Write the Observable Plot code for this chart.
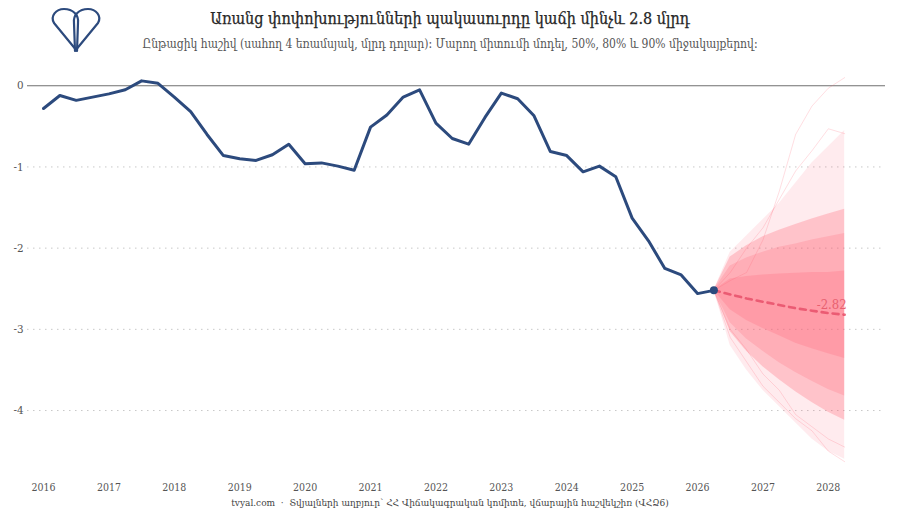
<!DOCTYPE html>
<html><head><meta charset="utf-8">
<script src="https://cdn.jsdelivr.net/npm/d3@7"></script>
<script src="https://cdn.jsdelivr.net/npm/@observablehq/plot@0.6"></script>
<style>
body{margin:0;background:#fff;}
#wrap{position:relative;width:900px;height:525px;overflow:hidden;background:#fff;font-family:"DejaVu Serif",serif;}
#title{position:absolute;top:9px;left:0;width:900px;text-align:center;font-size:16px;color:#262626;font-family:"DejaVu Serif Condensed","DejaVu Serif",serif;-webkit-text-stroke:0.25px #262626;}
#subtitle{position:absolute;top:37px;left:0;width:900px;text-align:center;font-size:12px;color:#555;font-family:"DejaVu Serif Condensed","DejaVu Serif",serif;}
#chart{position:absolute;top:62px;left:0;}
#caption{position:absolute;top:497px;left:0;width:900px;text-align:center;font-size:10px;color:#444;font-family:"DejaVu Serif Condensed","DejaVu Serif",serif;}
#logo{position:absolute;left:48px;top:6px;}
</style></head>
<body>
<div id="wrap">
<svg id="logo" width="56" height="48" viewBox="0 0 56 48">
  <path d="M29,45 L6,17 C2,10 8,3 16,3 C25,3 31,9 30,17 Z" fill="none" stroke="#2c4a7d" stroke-width="2.2" stroke-linejoin="round"/>
  <path d="M27,45 L50,17 C54,10 48,3 40,3 C31,3 25,9 26,17 Z" fill="none" stroke="#2c4a7d" stroke-width="2.2" stroke-linejoin="round"/>
</svg>
<div id="title">Առանց փոփոխությունների պակասուրդը կաճի մինչև 2.8 մլրդ</div>
<div id="subtitle">Ընթացիկ հաշիվ (սահող 4 եռամսյակ, մլրդ դոլար)։ Մարող միտումի մոդել, 50%, 80% և 90% միջակայքերով։</div>
<div id="chart"></div>
<div id="caption">tvyal.com &nbsp;·&nbsp; Տվյալների աղբյուր՝ ՀՀ Վիճակագրական կոմիտե, վճարային հաշվեկշիռ (ՎՀՁ6)</div>
</div>
<script>
// Historical current account (rolling 4 quarters, bn USD), quarterly from 2016 Q1
const histStart = 2016;
const histValues = [-0.28,-0.12,-0.18,-0.14,-0.10,-0.05,0.06,0.03,-0.14,-0.32,-0.60,-0.86,-0.90,-0.92,-0.85,-0.72,-0.96,-0.95,-0.99,-1.04,-0.51,-0.36,-0.14,-0.05,-0.46,-0.65,-0.72,-0.39,-0.09,-0.16,-0.37,-0.81,-0.86,-1.06,-0.99,-1.12,-1.63,-1.91,-2.25,-2.33,-2.56,-2.52];

// Forecast, quarterly from 2026 Q2 (last observed) to 2028 Q2
const fcStart = 2026.25;
const fcMedian = [-2.52,-2.57,-2.62,-2.66,-2.70,-2.74,-2.77,-2.80,-2.82];
const fcLo50 = [-2.52,-2.76,-2.89,-2.99,-3.08,-3.17,-3.24,-3.30,-3.36];
const fcHi50 = [-2.52,-2.38,-2.35,-2.33,-2.32,-2.31,-2.30,-2.30,-2.28];
const fcLo80 = [-2.52,-2.92,-3.12,-3.27,-3.41,-3.53,-3.64,-3.74,-3.82];
const fcHi80 = [-2.52,-2.22,-2.12,-2.05,-1.99,-1.95,-1.90,-1.86,-1.82];
const fcLo90 = [-2.52,-3.03,-3.27,-3.46,-3.62,-3.77,-3.90,-4.02,-4.12];
const fcHi90 = [-2.52,-2.11,-1.97,-1.86,-1.78,-1.71,-1.64,-1.58,-1.52];
const fcMin = [-2.52,-3.20,-3.50,-3.75,-3.95,-4.15,-4.35,-4.50,-4.60];
const fcMax = [-2.52,-2.05,-1.85,-1.65,-1.45,-1.20,-0.95,-0.75,-0.55];
// a few visible extreme simulated paths
const pathHigh1 = [-2.52,-2.40,-2.30,-1.90,-1.30,-0.60,-0.25,-0.03,0.10];
const pathHigh2 = [-2.52,-2.30,-2.00,-1.75,-1.40,-1.05,-0.80,-0.53,-0.59];
const pathLow1 = [-2.52,-3.10,-3.40,-3.70,-3.90,-4.10,-4.25,-4.50,-4.63];
const pathLow2 = [-2.52,-3.00,-3.25,-3.55,-3.75,-4.05,-4.20,-4.35,-4.45];

const yTicks = [0,-1,-2,-3,-4];
const xTicks = [2016,2017,2018,2019,2020,2021,2022,2023,2024,2025,2026,2027,2028];
const medianLabel = "-2.82";

const hist = histValues.map((v,i)=>({t: histStart + i/4, v}));
const fc = fcMedian.map((m,i)=>({
  t: fcStart + i/4, m,
  lo50: fcLo50[i], hi50: fcHi50[i], lo80: fcLo80[i], hi80: fcHi80[i],
  lo90: fcLo90[i], hi90: fcHi90[i], mn: fcMin[i], mx: fcMax[i],
  p1: pathHigh1[i], p2: pathHigh2[i], p3: pathLow1[i], p4: pathLow2[i]
}));
const last = hist[hist.length-1];
const fcLast = fc[fc.length-1];

const pink = "#ff5c70";

const chart = Plot.plot({
  width: 900,
  height: 435,
  marginLeft: 27,
  marginRight: 15,
  marginTop: 7,
  marginBottom: 22,
  x: {domain: [2015.755, 2028.874], label: null},
  y: {domain: [-4.8, 0.2], label: null},
  style: {fontFamily: "'DejaVu Serif Condensed','DejaVu Serif',serif", fontSize: "11px", color: "#555", background: "transparent"},
  marks: [
    Plot.ruleY(yTicks.filter(d=>d!==0), {stroke: "#c8c8c8", strokeDasharray: "1.5,4.5", strokeWidth: 1}),
    Plot.ruleY([0], {stroke: "#6f6f6f", strokeWidth: 1.2}),
    Plot.areaY(fc, {x: "t", y1: "mn", y2: "mx", fill: pink, fillOpacity: 0.12}),
    Plot.areaY(fc, {x: "t", y1: "lo90", y2: "hi90", fill: pink, fillOpacity: 0.28}),
    Plot.areaY(fc, {x: "t", y1: "lo80", y2: "hi80", fill: pink, fillOpacity: 0.2}),
    Plot.areaY(fc, {x: "t", y1: "lo50", y2: "hi50", fill: pink, fillOpacity: 0.22}),
    Plot.lineY(fc, {x: "t", y: "p1", stroke: pink, strokeOpacity: 0.25, strokeWidth: 0.8}),
    Plot.lineY(fc, {x: "t", y: "p2", stroke: pink, strokeOpacity: 0.25, strokeWidth: 0.8}),
    Plot.lineY(fc, {x: "t", y: "p3", stroke: pink, strokeOpacity: 0.25, strokeWidth: 0.8}),
    Plot.lineY(fc, {x: "t", y: "p4", stroke: pink, strokeOpacity: 0.25, strokeWidth: 0.8}),
    Plot.lineY(fc, {x: "t", y: "m", stroke: "#e8506a", strokeWidth: 2.6, strokeDasharray: "6,5", strokeOpacity: 0.85}),
    Plot.text([fcLast], {x: "t", y: "m", text: () => medianLabel, textAnchor: "end", dy: -10, dx: 2, fill: "#e8606f", fontSize: 13}),
    Plot.lineY(hist, {x: "t", y: "v", stroke: "#2c4a7d", strokeWidth: 3, strokeLinejoin: "round"}),
    Plot.dot([last], {x: "t", y: "v", r: 4, fill: "#2c4a7d"}),
    Plot.axisY({ticks: yTicks, tickSize: 0, tickPadding: 4, tickFormat: d => String(d), fontSize: 11.5, label: null}),
    Plot.axisX({ticks: xTicks, tickSize: 0, tickPadding: 8, tickFormat: d => String(d), fontSize: 10.5, label: null})
  ]
});
document.getElementById("chart").appendChild(chart);
</script>
</body></html>
